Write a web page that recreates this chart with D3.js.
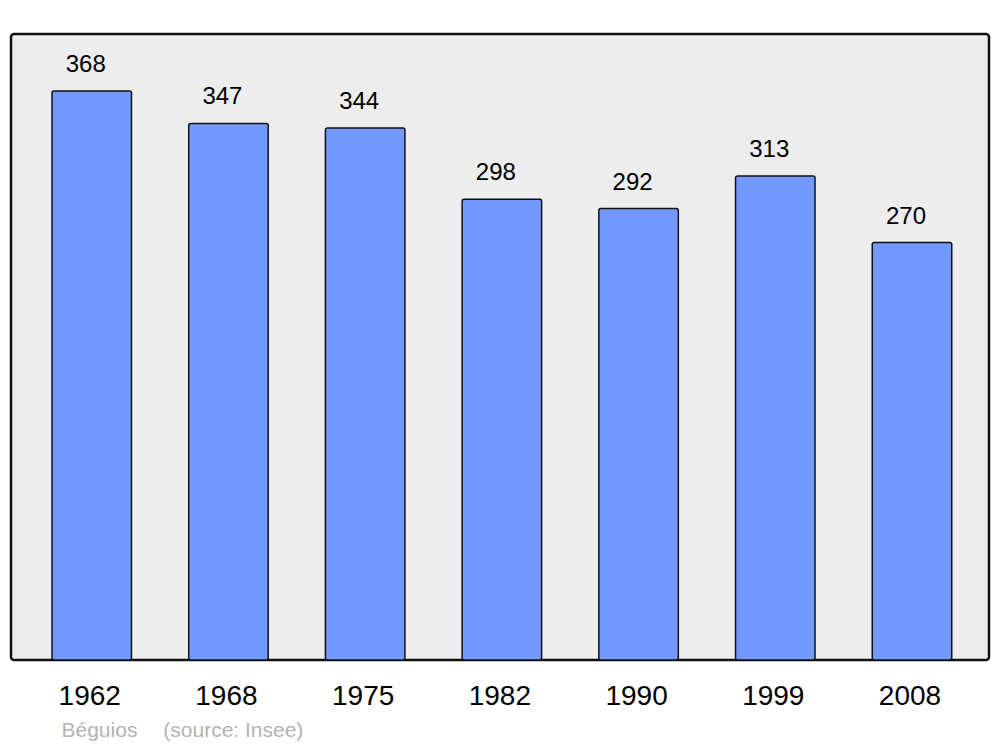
<!DOCTYPE html>
<html><head><meta charset="utf-8">
<script src="https://cdn.jsdelivr.net/npm/d3@7"></script>
<style>body{margin:0;background:#fff}svg{display:block}</style>
</head><body>
<svg id="c" width="1000" height="747"></svg>
<script>
const years = ["1962","1968","1975","1982","1990","1999","2008"];
const population = [368,347,344,298,292,313,270];
const sourceLabel = "Béguios";
const sourceNote = "(source: Insee)";

const svg = d3.select("#c");
const font = "'Liberation Sans', Arial, sans-serif";

// panel
svg.append("rect").attr("x",11).attr("y",34).attr("width",978).attr("height",626)
  .attr("rx",3).attr("fill","#ededed").attr("stroke","#111").attr("stroke-width",2.5);

const x = d3.scaleBand().domain(years).range([11, 992.75]).paddingInner(0.4186).paddingOuter(0.3);
const y = d3.scaleLinear().domain([0,368]).range([660,91]);

svg.selectAll("rect.bar").data(years).enter().append("rect").attr("class","bar")
  .attr("x",d=>x(d)).attr("width",x.bandwidth())
  .attr("y",(d,i)=>y(population[i])).attr("height",(d,i)=>y(0)-y(population[i]))
  .attr("rx",2).attr("fill","#7399ff").attr("stroke","#111").attr("stroke-width",1.5);

svg.selectAll("text.val").data(years).enter().append("text").attr("class","val")
  .attr("x",d=>x(d)+x.bandwidth()/2-6).attr("y",(d,i)=>y(population[i])-19)
  .attr("text-anchor","middle").attr("font-family",font).attr("font-size",24).attr("fill","#000")
  .text((d,i)=>population[i]);

svg.selectAll("text.yr").data(years).enter().append("text").attr("class","yr")
  .attr("x",d=>x(d)+x.bandwidth()/2-2).attr("y",705)
  .attr("text-anchor","middle").attr("font-family",font).attr("font-size",28).attr("fill","#000")
  .text(d=>d);

svg.append("text").attr("x",61.5).attr("y",737).attr("font-family",font).attr("font-size",21)
  .attr("fill","#b3b3b3").text(sourceLabel);
svg.append("text").attr("x",163.3).attr("y",737).attr("font-family",font).attr("font-size",21)
  .attr("fill","#b3b3b3").text(sourceNote);
</script>
</body></html>
